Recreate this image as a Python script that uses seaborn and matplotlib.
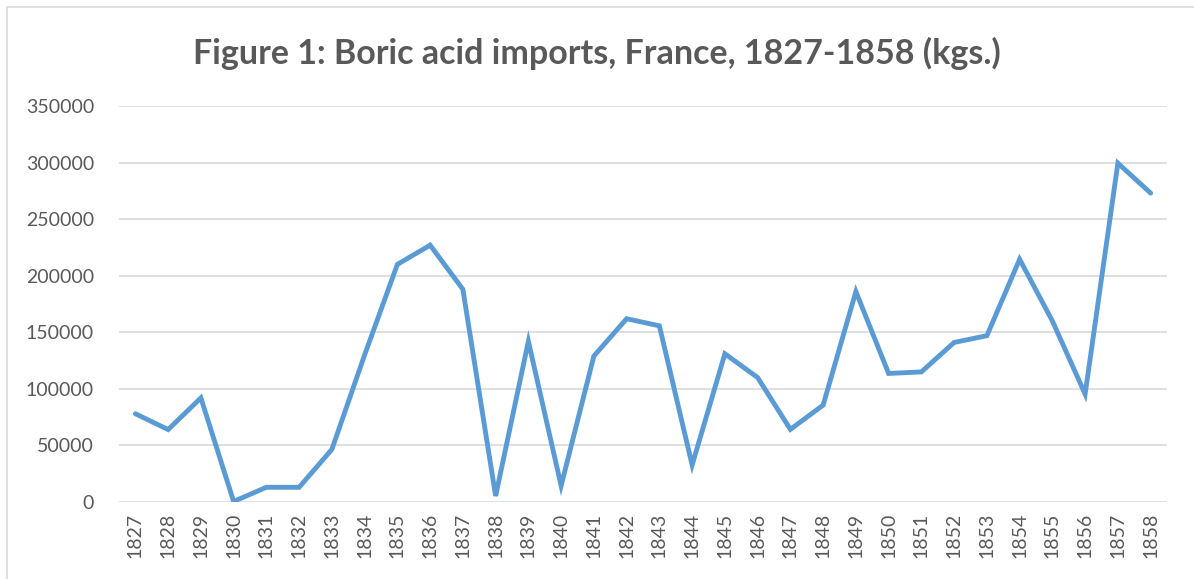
import pandas as pd
import matplotlib.pyplot as plt
import seaborn as sns
from matplotlib.patches import Rectangle

# Boric acid imports into France, kgs
years = list(range(1827, 1859))
imports_kg = [
    78000, 64000, 92000, 500, 13000, 13000, 46500, 130000,
    210000, 227000, 188000, 5300, 142000, 14400, 129000, 162000,
    155700, 32700, 131000, 110000, 64200, 85600, 186000, 113600,
    115000, 141000, 147000, 214500, 160000, 95400, 299500, 273000,
]
y_ticks = [0, 50000, 100000, 150000, 200000, 250000, 300000, 350000]
title = "Figure 1: Boric acid imports, France, 1827-1858 (kgs.)"

df = pd.DataFrame({"year": years, "kg": imports_kg})
df["pos"] = range(len(df))

sns.set_style("white")
plt.rcParams["font.family"] = ["Lato", "DejaVu Sans"]

fig = plt.figure(figsize=(11.94, 5.79), dpi=100)
ax = fig.add_axes([119 / 1194, 1 - 502 / 579, (1167 - 119) / 1194, (502 - 106) / 579])

sns.lineplot(data=df, x="pos", y="kg", ax=ax, color="#5B9BD5", linewidth=3.5,
             solid_joinstyle="miter")

ax.set_xlim(-0.5, len(df) - 0.5)
ax.set_ylim(0, 350000)
ax.set_yticks(y_ticks)
ax.set_yticklabels([str(v) for v in y_ticks])
ax.set_xticks(df["pos"])
ax.set_xticklabels([str(y) for y in years], rotation=90)
ax.set_xlabel("")
ax.set_ylabel("")

ax.yaxis.grid(True, color="#D9D9D9", linewidth=1.2)
ax.set_axisbelow(True)
for s in ax.spines.values():
    s.set_visible(False)
ax.tick_params(axis="both", length=0, labelsize=14, labelcolor="#595959")
ax.tick_params(axis="y", pad=18)
ax.tick_params(axis="x", pad=8)

fig.text(0.5, 1 - 53 / 579, title, ha="center", va="center",
         fontsize=24.5, fontweight="bold", color="#595959")

# light chart-area border like the spreadsheet export
fig.patches.append(Rectangle((6.5 / 1194, -0.05), 1.1, 1.05 - 6.5 / 579,
                             transform=fig.transFigure, fill=False,
                             edgecolor="#D9D9D9", linewidth=1.2))

fig.savefig("out.png", dpi=100)
